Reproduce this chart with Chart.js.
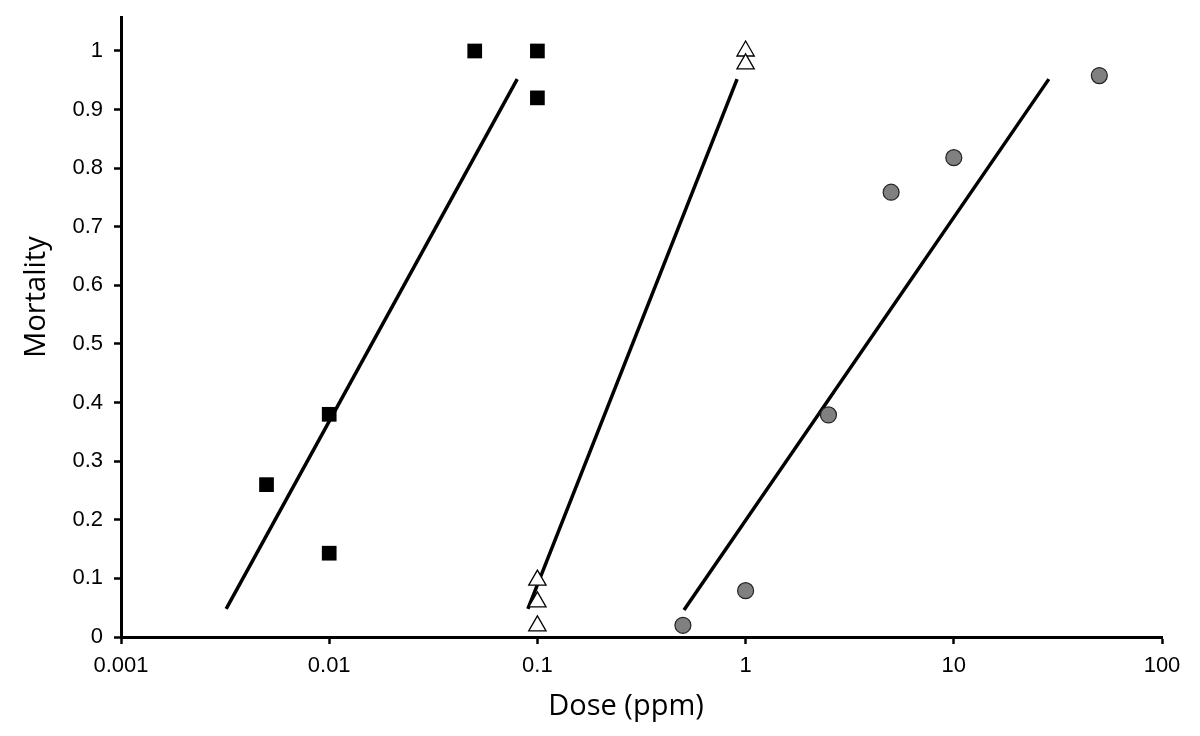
<!DOCTYPE html>
<html>
<head>
<meta charset="utf-8">
<script src="https://cdn.jsdelivr.net/npm/chart.js@4/dist/chart.umd.min.js"></script>
<style>
  html, body { margin: 0; padding: 0; background: #fff; }
  #wrap { width: 1200px; height: 736px; }
</style>
</head>
<body>
<div id="wrap"><canvas id="mycanvas" width="1200" height="736"></canvas></div>
<script>
// squares
var squareDose = [0.005, 0.01, 0.01, 0.05, 0.1, 0.1];
var squareMort = [0.26, 0.38, 0.143, 1.0, 1.0, 0.92];
// open triangles
var triDose = [0.1, 0.1, 0.1, 1, 1];
var triMort = [0.097, 0.06, 0.019, 1.0, 0.978];
// grey circles
var circDose = [0.5, 1, 2.5, 5, 10, 50];
var circMort = [0.02, 0.079, 0.379, 0.759, 0.818, 0.958];
// fitted lines (end points)
var fitADose = [0.0032, 0.08];
var fitAMort = [0.048, 0.952];
var fitBDose = [0.09, 0.91];
var fitBMort = [0.048, 0.952];
var fitCDose = [0.506, 28.6];
var fitCMort = [0.046, 0.952];

var xTicks = [0.001, 0.01, 0.1, 1, 10, 100];
var yTicks = [0, 0.1, 0.2, 0.3, 0.4, 0.5, 0.6, 0.7, 0.8, 0.9, 1];
var xTitle = "Dose (ppm)";
var yTitle = "Mortality";

function pts(xs, ys) {
  var out = [];
  for (var i in xs) out.push({x: xs[i], y: ys[i]});
  return out;
}

function fitLine(xs, ys) {
  return {
    data: pts(xs, ys),
    showLine: true,
    borderColor: "#000",
    borderWidth: 3.5,
    pointRadius: 0,
    fill: false
  };
}

var chartdata = {
  datasets: [
    {
      data: pts(squareDose, squareMort),
      pointStyle: "rect",
      pointRadius: 10.4,
      backgroundColor: "#000",
      borderColor: "#000",
      borderWidth: 0
    },
    {
      data: pts(triDose, triMort),
      pointStyle: "triangle",
      pointRadius: 10,
      backgroundColor: "#fff",
      borderColor: "#000",
      borderWidth: 1.3
    },
    {
      data: pts(circDose, circMort),
      pointStyle: "circle",
      pointRadius: 8,
      backgroundColor: "#808080",
      borderColor: "#222",
      borderWidth: 1.2
    },
    fitLine(fitADose, fitAMort),
    fitLine(fitBDose, fitBMort),
    fitLine(fitCDose, fitCMort)
  ]
};

var tickFont = {family: "'Liberation Sans', Arial, sans-serif", size: 22};
var titleFont = "29px 'Open Sans', sans-serif";

// axis titles, placed where the original figure has them
var axisTitles = {
  id: "axisTitles",
  afterDraw: function(chart) {
    var c = chart.ctx;
    c.save();
    c.fillStyle = "#000";
    c.font = titleFont;
    c.textAlign = "center";
    c.textBaseline = "middle";
    c.fillText(xTitle, 626, 707);
    c.translate(37, 297);
    c.rotate(-Math.PI / 2);
    c.fillText(yTitle, 0, 0);
    c.restore();
  }
};

var ctx = document.getElementById("mycanvas");

var ScatterGraph = new Chart(ctx, {
  type: "scatter",
  data: chartdata,
  plugins: [axisTitles],
  options: {
    responsive: false,
    animation: false,
    layout: {padding: {top: 17, right: 38, left: 0, bottom: 0}},
    plugins: {legend: {display: false}, tooltip: {enabled: false}},
    scales: {
      x: {
        type: "logarithmic",
        min: 0.001,
        max: 100,
        afterBuildTicks: function(scale) {
          scale.ticks = xTicks.map(function(v){ return {value: v}; });
        },
        afterFit: function(scale) {
          scale.height = 99;
          scale.paddingLeft = 0;
          scale.paddingRight = 0;
        },
        ticks: {
          color: "#000",
          font: tickFont,
          padding: 9,
          maxRotation: 0,
          callback: function(v) { return String(v); }
        },
        grid: {display: true, drawOnChartArea: false, tickLength: 7, tickWidth: 2.5, tickColor: "#000"},
        border: {display: true, color: "#000", width: 3}
      },
      y: {
        min: 0,
        max: 1.058,
        afterBuildTicks: function(scale) {
          scale.ticks = yTicks.map(function(v){ return {value: v}; });
        },
        afterFit: function(scale) {
          scale.width = 121;
          scale.paddingTop = 0;
          scale.paddingBottom = 0;
        },
        ticks: {
          color: "#000",
          font: tickFont,
          padding: 11,
          callback: function(v) { return String(v); }
        },
        grid: {display: true, drawOnChartArea: false, tickLength: 7, tickWidth: 2.5, tickColor: "#000"},
        border: {display: true, color: "#000", width: 3}
      }
    }
  }
});
</script>
</body>
</html>
